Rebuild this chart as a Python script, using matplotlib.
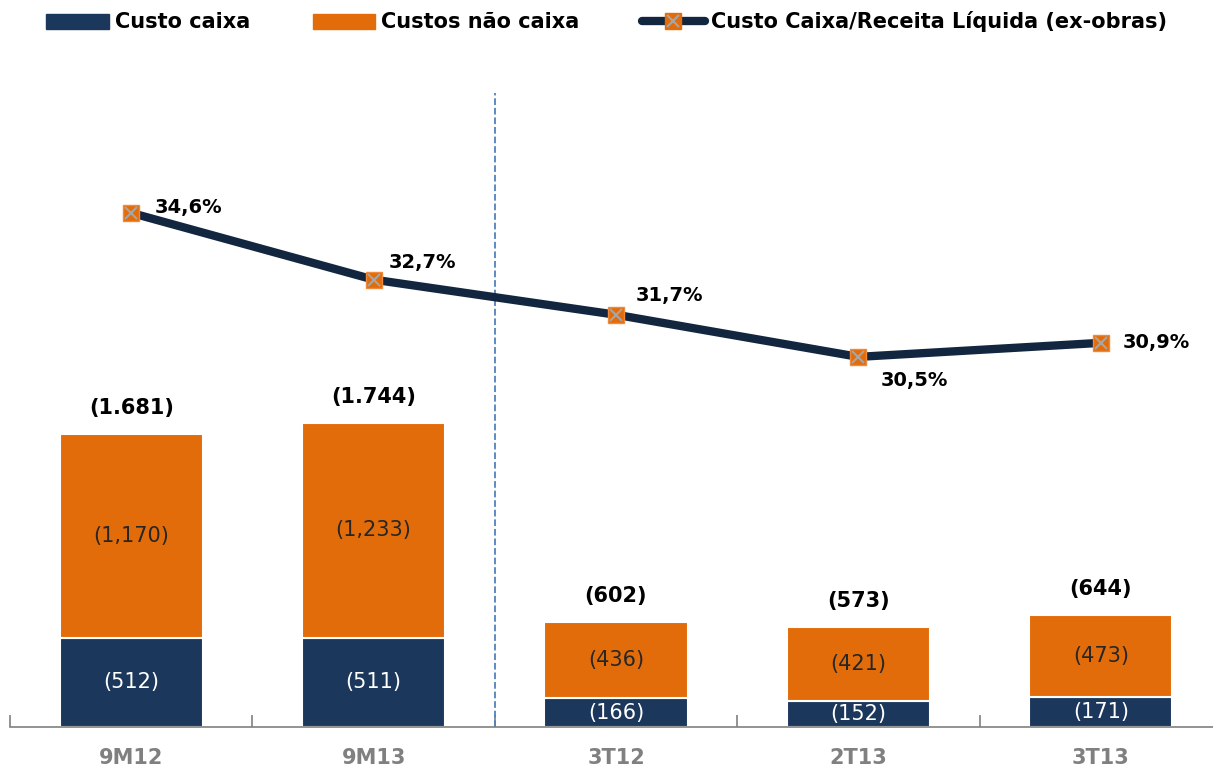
import numpy as np
import matplotlib.pyplot as plt
from matplotlib.lines import Line2D
from matplotlib.patches import Patch

categories = ['9M12', '9M13', '3T12', '2T13', '3T13']
custo_caixa = [512, 511, 166, 152, 171]
custos_nao_caixa = [1170, 1233, 436, 421, 473]
totais = ['(1.681)', '(1.744)', '(602)', '(573)', '(644)']
caixa_labels = ['(512)', '(511)', '(166)', '(152)', '(171)']
nao_caixa_labels = ['(1,170)', '(1,233)', '(436)', '(421)', '(473)']
ratio = [34.6, 32.7, 31.7, 30.5, 30.9]
ratio_labels = ['34,6%', '32,7%', '31,7%', '30,5%', '30,9%']

navy = '#1b375c'
orange = '#e36c0a'
line_col = '#13263f'
gray = '#808080'

plt.rcParams['font.family'] = ['DejaVu Sans']

fig = plt.figure(figsize=(12.13, 7.74), dpi=100)
ax = fig.add_axes([10 / 1213, 47 / 774, 1212 / 1213, 637 / 774])

x = np.arange(len(categories))
w = 0.59
ax.bar(x, custo_caixa, w, color=navy, edgecolor='white', linewidth=1.5)
ax.bar(x, custos_nao_caixa, w, bottom=custo_caixa, color=orange,
       edgecolor='white', linewidth=1.5)

ax.set_xlim(-0.5, 4.5)
ax.set_ylim(0, 3655)

for i in range(len(x)):
    ax.text(x[i], custo_caixa[i] / 2, caixa_labels[i], ha='center', va='center',
            color='white', fontsize=15)
    ax.text(x[i], custo_caixa[i] + custos_nao_caixa[i] / 2, nao_caixa_labels[i],
            ha='center', va='center', color='#262626', fontsize=15)
    top = custo_caixa[i] + custos_nao_caixa[i]
    ax.text(x[i], top + 150, totais[i], ha='center', va='center',
            color='black', fontsize=15, fontweight='bold')

for s in ['top', 'right', 'left']:
    ax.spines[s].set_visible(False)
ax.spines['bottom'].set_color(gray)
ax.spines['bottom'].set_linewidth(1.2)
ax.set_yticks([])
ax.set_xticks(x)
ax.set_xticklabels(categories, color=gray, fontsize=15, fontweight='bold')
ax.tick_params(axis='x', length=0, pad=15)
ax.set_xticks(np.arange(-0.5, 4.5, 1), minor=True)
ax.tick_params(axis='x', which='minor', direction='in', length=9, color=gray, width=1.2)

ax.axvline(1.5, ymin=0, ymax=0.995, color='#4f81bd', linestyle='--', linewidth=1.3)

ax2 = ax.twinx()
ax2.set_ylim(19.96, 38.1)
ax2.axis('off')
ax2.plot(x, ratio, color=line_col, linewidth=6, solid_capstyle='round', zorder=3)
ax2.plot(x, ratio, linestyle='none', marker='s', markersize=11, color=orange,
         markeredgecolor='#f08a3a', zorder=4)
ax2.plot(x, ratio, linestyle='none', marker='x', markersize=9, color='#a6a6a6',
         markeredgewidth=1.5, zorder=5)

offsets = [(17, 4), (11, 12), (14, 14), (16, -17), (16, 0)]
for i in range(len(x)):
    ax2.annotate(ratio_labels[i], (x[i], ratio[i]), xytext=offsets[i],
                 textcoords='offset points', ha='left', va='center',
                 fontsize=14, fontweight='bold', color='black')

h1 = Patch(color=navy)
h2 = Patch(color=orange)
h3 = (Line2D([], [], color=line_col, linewidth=6, solid_capstyle='round'),
      Line2D([], [], linestyle='none', marker='s', markersize=11, color=orange),
      Line2D([], [], linestyle='none', marker='x', markersize=9, color='#a6a6a6',
             markeredgewidth=1.5))
fig.legend([h1, h2, h3], ['Custo caixa', 'Custos não caixa',
                          'Custo Caixa/Receita Líquida (ex-obras)'],
           loc='center', bbox_to_anchor=(0.5, 1 - 22 / 774), ncol=3, frameon=False,
           prop={'size': 15, 'weight': 'bold'}, handlelength=3.0, handleheight=0.7,
           handletextpad=0.3, columnspacing=3.0)

fig.savefig('out.png', dpi=100)
